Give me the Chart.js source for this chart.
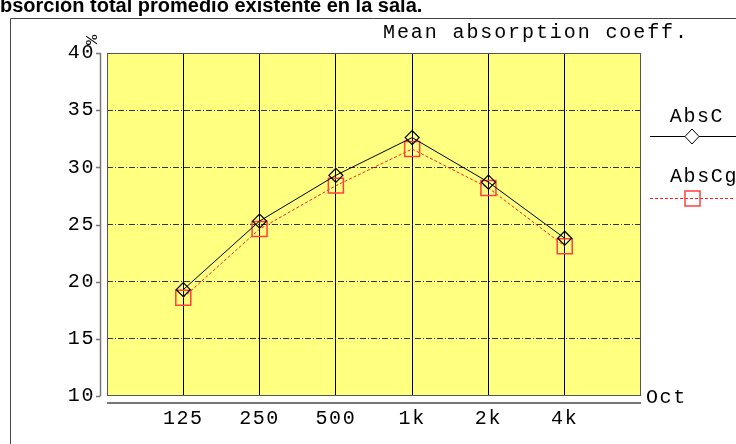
<!DOCTYPE html>
<html>
<head>
<meta charset="utf-8">
<script src="https://cdn.jsdelivr.net/npm/chart.js@4/dist/chart.umd.min.js"></script>
<style>
  html, body { margin: 0; padding: 0; background: #fff; }
  #wrap { width: 736px; height: 444px; }
</style>
</head>
<body>
<div id="wrap"><canvas id="c" width="736" height="444"></canvas></div>
<script>
// octave bands, plotted at positions 1..6 on a 0..7 axis
const bandas = ['125', '250', '500', '1k', '2k', '4k'];
const absC  = [19.3, 25.3, 29.3, 32.6, 28.7, 23.8];
const absCg = [18.6, 24.6, 28.4, 31.6, 28.2, 23.1];
const yTicks = [10, 15, 20, 25, 30, 35, 40];

const MONO = '"Liberation Mono", "DejaVu Sans Mono", monospace';
const SPACING = '1.6px';

function puntos(vals) {
  return vals.map((v, i) => ({ x: i + 1, y: v }));
}

// fondo amarillo, ejes grises, textos y leyenda
const decor = {
  id: 'decor',
  beforeDraw(chart) {
    const { ctx, chartArea: a } = chart;
    ctx.letterSpacing = SPACING;  // queda para las etiquetas de los ejes
    ctx.save();
    ctx.fillStyle = '#ffff80';
    ctx.fillRect(a.left, a.top, a.right - a.left, a.bottom - a.top);
    ctx.restore();
  },
  afterDraw(chart) {
    const { ctx, chartArea: a, scales } = chart;
    ctx.save();
    // marco del área
    ctx.strokeStyle = '#555';
    ctx.lineWidth = 1;
    ctx.strokeRect(a.left + 0.5, a.top + 0.5, a.right - a.left - 1, a.bottom - a.top - 1);

    // marco exterior
    ctx.strokeStyle = '#444';
    ctx.beginPath();
    ctx.moveTo(10.5, 460); ctx.lineTo(10.5, 18.5); ctx.lineTo(760, 18.5);
    ctx.stroke();

    // eje y separado
    ctx.strokeStyle = '#777';
    ctx.lineWidth = 1.5;
    ctx.beginPath();
    ctx.moveTo(100.5, a.top); ctx.lineTo(100.5, a.bottom);
    yTicks.forEach(t => {
      const y = Math.round(scales.y.getPixelForValue(t)) + 0.5;
      ctx.moveTo(96, y); ctx.lineTo(100.5, y);
    });
    ctx.stroke();

    // eje x separado
    ctx.lineWidth = 2;
    ctx.beginPath();
    ctx.moveTo(a.left, a.bottom + 7); ctx.lineTo(a.right, a.bottom + 7);
    ctx.stroke();

    // textos
    ctx.fillStyle = '#000';
    ctx.letterSpacing = '1.9px';
    ctx.font = '20px ' + MONO;
    ctx.textBaseline = 'middle';
    ctx.textAlign = 'left';
    ctx.fillText('Mean absorption coeff.', 383, 33);
    ctx.letterSpacing = SPACING;
    ctx.fillText('Oct', a.right + 5, a.bottom + 2);

    ctx.save();
    ctx.letterSpacing = '0px';
    ctx.translate(92, 40);
    ctx.rotate(-Math.PI / 2);
    ctx.font = '17px ' + MONO;
    ctx.textAlign = 'center';
    ctx.fillText('%', 0, 0);
    ctx.restore();

    // título cortado arriba
    ctx.letterSpacing = '0px';
    ctx.font = 'bold 20px "Liberation Sans", Arial, sans-serif';
    ctx.textBaseline = 'alphabetic';
    const wA = ctx.measureText('A').width;
    ctx.fillText('Absorción total promedio existente en la sala.', -wA, 12);

    // leyenda
    ctx.letterSpacing = SPACING;
    ctx.font = '20px ' + MONO;
    ctx.textAlign = 'center';
    ctx.textBaseline = 'middle';
    ctx.fillText('AbsC', 697, 117);
    ctx.fillText('AbsCg', 704, 177);

    ctx.strokeStyle = '#000';
    ctx.lineWidth = 1;
    ctx.beginPath();
    ctx.moveTo(650, 136.5); ctx.lineTo(736, 136.5);
    ctx.stroke();
    ctx.beginPath();
    ctx.moveTo(692, 129); ctx.lineTo(699, 136.5); ctx.lineTo(692, 144); ctx.lineTo(685, 136.5); ctx.closePath();
    ctx.fillStyle = '#fff';
    ctx.fill();
    ctx.stroke();

    ctx.strokeStyle = '#ff2020';
    ctx.setLineDash([3, 2]);
    ctx.beginPath();
    ctx.moveTo(650, 198.5); ctx.lineTo(733, 198.5);
    ctx.stroke();
    ctx.setLineDash([]);
    ctx.strokeStyle = '#ff4040';
    ctx.lineWidth = 1.5;
    ctx.strokeRect(685, 191, 15, 15);
    ctx.restore();
  }
};

new Chart(document.getElementById('c'), {
  type: 'line',
  data: {
    datasets: [
      {
        label: 'AbsC',
        data: puntos(absC),
        borderColor: '#000',
        borderWidth: 1,
        pointStyle: 'rectRot',
        pointRadius: 7,
        pointBorderColor: '#000',
        pointBackgroundColor: 'rgba(0,0,0,0)',
        pointBorderWidth: 1.2,
        tension: 0,
      },
      {
        label: 'AbsCg',
        data: puntos(absCg),
        borderColor: '#ff2020',
        borderWidth: 1,
        borderDash: [3, 2],
        pointStyle: 'rect',
        pointRadius: 10.6,
        pointBorderColor: '#ff4040',
        pointBackgroundColor: 'rgba(0,0,0,0)',
        pointBorderWidth: 1.5,
        tension: 0,
      },
    ],
  },
  options: {
    responsive: false,
    animation: false,
    devicePixelRatio: 1,
    layout: { padding: { left: 0, top: 53, right: 95, bottom: 0 } },
    plugins: { legend: { display: false }, tooltip: { enabled: false } },
    scales: {
      x: {
        type: 'linear',
        min: 0, max: 7,
        afterFit: s => { s.height = 48; },
        border: { display: false },
        grid: {
          drawTicks: false,
          color: c => (c.tick.value >= 1 && c.tick.value <= 6) ? '#000' : 'rgba(0,0,0,0)',
          lineWidth: 1,
        },
        ticks: {
          stepSize: 1,
          autoSkip: false,
          maxRotation: 0,
          padding: 11,
          color: '#000',
          font: { family: MONO, size: 20 },
          callback: v => bandas[v - 1] || '',
        },
      },
      y: {
        min: 10, max: 40,
        afterFit: s => { s.width = 107; },
        border: { display: false, dash: [6, 2, 1, 2] },
        grid: {
          drawTicks: false,
          color: c => (c.tick.value > 10 && c.tick.value < 40) ? '#333' : 'rgba(0,0,0,0)',
          lineWidth: 1,
        },
        ticks: {
          stepSize: 5,
          padding: 12,
          color: '#000',
          font: { family: MONO, size: 20 },
        },
      },
    },
  },
  plugins: [decor],
});
</script>
</body>
</html>
